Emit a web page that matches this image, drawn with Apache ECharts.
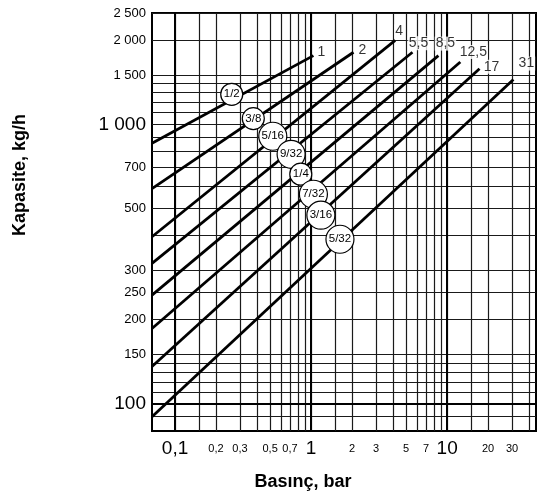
<!DOCTYPE html>
<html>
<head>
<meta charset="utf-8">
<title>Kapasite / Basınç</title>
<script src="https://cdn.jsdelivr.net/npm/echarts@6/dist/echarts.min.js"></script>
<style>
  html, body { margin: 0; padding: 0; background: #fff; }
  #chart { width: 537px; height: 496px; }
</style>
</head>
<body>
<div id="chart"></div>
<script>
// nozzle size of each line and the max pressure written at its end (bar)
var nozzles = ['1/2', '3/8', '5/16', '9/32', '1/4', '7/32', '3/16', '5/32'];
var maxPressure = ['1', '2', '4', '5,5', '8,5', '12,5', '17', '31'];

// lines start at the left edge of the chart (lowest pressure)
var startP = 0.0677;
var startQ = [855, 589, 396, 318, 245, 186, 136, 90];
var endP = [1.04, 2.05, 4.15, 5.56, 8.63, 12.5, 17.3, 30.7];
var endQ = [1760, 1810, 1995, 1810, 1760, 1670, 1580, 1445];

// where the circled nozzle labels sit
var circleP = [0.261, 0.376, 0.523, 0.713, 0.84, 1.04, 1.18, 1.63];
var circleQ = [1280, 1048, 906, 781, 663, 562, 473, 388];

// axis labels and grid lines
var xTicks = [0.1, 0.2, 0.3, 0.5, 0.7, 1, 2, 3, 5, 7, 10, 20, 30];
var xGrid = [0.1, 0.15, 0.2, 0.3, 0.4, 0.5, 0.6, 0.7, 0.8, 0.9, 1, 1.5, 2, 3, 4, 5, 6, 7, 8, 9, 10, 15, 20, 30, 40];
var xBig = [0.1, 1, 10];
var yTicks = [100, 150, 200, 250, 300, 500, 700, 1000, 1500, 2000, 2500];
var yGrid = [90, 100, 110, 120, 130, 140, 150, 200, 250, 300, 400, 500, 600, 700, 800, 900, 1000, 1100, 1200, 1300, 1400, 1500, 2000, 2500];
var yBig = [100, 1000];

// where the pressure label sits relative to the line end (px)
var endLabelOffset = [[8, -3], [9, -2], [4, -9], [6, -9], [7, -12], [13, -10], [12, -2], [13, -16]];

var narrow = '"Liberation Sans Narrow", "Liberation Sans", Arial, sans-serif';
var normal = '"Liberation Sans", Arial, sans-serif';

function fmtX(v) {
  var s = String(+v.toFixed(3)).replace('.', ',');
  return xBig.indexOf(+v.toFixed(3)) >= 0 ? '{big|' + s + '}' : '{sm|' + s + '}';
}
function fmtY(v) {
  v = Math.round(v);
  var s = v >= 1000 ? Math.floor(v / 1000) + ' ' + String(v % 1000).padStart(3, '0') : String(v);
  return yBig.indexOf(v) >= 0 ? '{big|' + s + '}' : '{sm|' + s + '}';
}

var series = nozzles.map(function (n, i) {
  return {
    type: 'line',
    name: n,
    data: [[startP, startQ[i]], [endP[i], endQ[i]]],
    symbol: 'none',
    silent: true,
    z: 3,
    lineStyle: { color: '#000', width: 2.8 }
  };
});

// heavier decade lines
series[0].markLine = {
  silent: true,
  symbol: 'none',
  label: { show: false },
  lineStyle: { color: '#000', width: 2, type: 'solid' },
  data: xBig.map(function (v) { return { xAxis: v }; })
    .concat([{ yAxis: 100 }])
};

series.push({
  type: 'scatter',
  silent: true,
  z: 6,
  data: nozzles.map(function (n, i) {
    return { name: n, value: [circleP[i], circleQ[i]], symbolSize: n.length > 3 ? 28 : 22 };
  }),
  symbol: 'circle',
  itemStyle: { color: '#fff', borderColor: '#000', borderWidth: 1.2, opacity: 1 },
  label: {
    show: true, position: 'inside', formatter: '{b}',
    color: '#000', fontFamily: narrow, fontSize: 11.5
  }
});

series.push({
  type: 'scatter',
  silent: true,
  z: 7,
  symbolSize: 1,
  itemStyle: { color: 'rgba(0,0,0,0)' },
  data: maxPressure.map(function (t, i) {
    return { name: t, value: [endP[i], endQ[i]], label: { offset: endLabelOffset[i] } };
  }),
  label: {
    show: true, position: 'inside', formatter: '{b}',
    color: '#000', fontFamily: narrow, fontSize: 14,
    backgroundColor: '#fff', padding: [0, 1]
  }
});

var option = {
  animation: false,
  backgroundColor: '#fff',
  grid: {
    left: 152, top: 13, right: 1, bottom: 65,
    show: true, borderColor: '#000', borderWidth: 2, backgroundColor: '#fff', z: 0
  },
  xAxis: {
    type: 'log',
    logBase: 10,
    min: startP,
    max: 45,
    axisLine: { show: false },
    axisTick: { show: false, customValues: xGrid },
    splitLine: { show: true, lineStyle: { color: '#1a1a1a', width: 1.2 } },
    axisLabel: {
      customValues: xTicks,
      margin: 7,
      formatter: fmtX,
      rich: {
        big: { fontSize: 19, fontFamily: normal, color: '#000', lineHeight: 22 },
        sm: { fontSize: 11, fontFamily: narrow, color: '#000', lineHeight: 22 }
      }
    }
  },
  yAxis: {
    type: 'log',
    logBase: 10,
    min: 80,
    max: 2500,
    axisLine: { show: false },
    axisTick: { show: false, customValues: yGrid },
    splitLine: { show: true, lineStyle: { color: '#1a1a1a', width: 1.2 } },
    axisLabel: {
      customValues: yTicks,
      margin: 6,
      formatter: fmtY,
      rich: {
        big: { fontSize: 19, fontFamily: normal, color: '#000' },
        sm: { fontSize: 13, fontFamily: narrow, color: '#000' }
      }
    }
  },
  graphic: [
    {
      type: 'text', x: 20, y: 175, rotation: Math.PI / 2,
      style: {
        text: 'Kapasite, kg/h', fontFamily: normal, fontWeight: 'bold', fontSize: 18,
        fill: '#000', align: 'center', verticalAlign: 'middle'
      }
    },
    {
      type: 'text', x: 303, y: 482,
      style: {
        text: 'Basınç, bar', fontFamily: normal, fontWeight: 'bold', fontSize: 18,
        fill: '#000', align: 'center', verticalAlign: 'middle'
      }
    }
  ],
  series: series
};

var myChart = echarts.init(document.getElementById('chart'));
myChart.setOption(option);
</script>
</body>
</html>
